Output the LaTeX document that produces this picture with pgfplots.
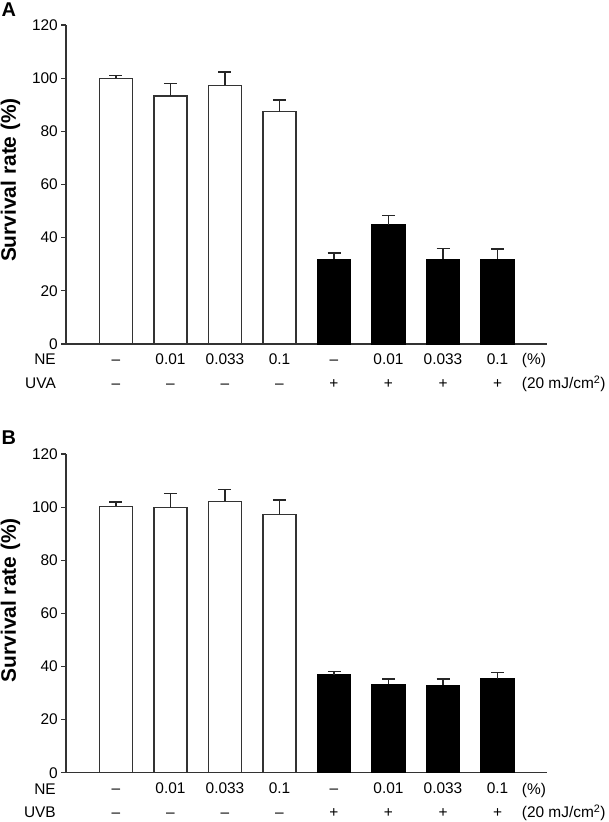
\documentclass[border=0pt]{standalone}
\usepackage{pgfplots}
\pgfplotsset{compat=1.18}
\usepackage{fontspec}
\setmainfont{Liberation Sans}
\newcommand\tf{\fontsize{15.5}{18}\selectfont}
\pgfplotsset{
 survstyle/.style={
  scale only axis, width=481bp, height=319bp,
  xmin=-0.917, xmax=7.908, ymin=0, ymax=120,
  axis x line*=bottom, axis y line*=left,
  ytick={0,20,...,120}, xtick=\empty,
  tick align=outside, major tick length=4.7bp,
  tick style={color=black!80, line width=1.1bp},
  axis line style={black!80, line width=1.1bp, -},
  y tick label style={font=\tf},
  /pgf/number format/assume math mode=true,
  clip=false,
  ybar, bar width=33bp, bar shift=0pt,
 },
 whitebar/.style={fill=white, draw=black!80, line width=1.1bp,
   error bars/.cd, y dir=plus, y explicit, error mark=|,
   error bar style={line width=1.2bp, black!85},
   error mark options={mark size=6.5bp, line width=1.2bp, black!85}},
 blackbar/.style={fill=black, draw=black, line width=1.1bp,
   error bars/.cd, y dir=plus, y explicit, error mark=|,
   error bar style={line width=1.2bp, black!85},
   error mark options={mark size=6.5bp, line width=1.2bp, black!85}},
}
\tikzset{
 rowa/.style={anchor=base, font=\tf, yshift=-21bp},
 rowb/.style={anchor=base, font=\tf, yshift=-45bp},
}
\begin{document}
\begin{tikzpicture}
\path[use as bounding box] (0,0) rectangle (609bp,822bp);
% Panel A
\begin{axis}[survstyle, at={(66bp,478bp)}, anchor=south west]
\addplot[whitebar] coordinates {(0,100) +- (0,1.0) (1,93.3) +- (0,4.8) (2,97.4) +- (0,4.9) (3,87.4) +- (0,4.4)};
\addplot[blackbar] coordinates {(4,31.9) +- (0,2.3) (5,44.9) +- (0,3.5) (6,31.9) +- (0,4.0) (7,31.9) +- (0,3.8)};
\node[rowa] at (axis cs:0,0) {–};
\node[rowa] at (axis cs:1,0) {0.01};
\node[rowa] at (axis cs:2,0) {0.033};
\node[rowa] at (axis cs:3,0) {0.1};
\node[rowa] at (axis cs:4,0) {–};
\node[rowa] at (axis cs:5,0) {0.01};
\node[rowa] at (axis cs:6,0) {0.033};
\node[rowa] at (axis cs:7,0) {0.1};
\node[rowb] at (axis cs:0,0) {–};
\node[rowb] at (axis cs:1,0) {–};
\node[rowb] at (axis cs:2,0) {–};
\node[rowb] at (axis cs:3,0) {–};
\node[rowb] at (axis cs:4,0) {+};
\node[rowb] at (axis cs:5,0) {+};
\node[rowb] at (axis cs:6,0) {+};
\node[rowb] at (axis cs:7,0) {+};
\end{axis}
\node[anchor=base east, font=\tf, inner sep=0pt] at (56bp,457bp) {NE};
\node[anchor=base east, font=\tf, inner sep=0pt] at (56bp,433bp) {UVA};
\node[anchor=base west, font=\tf, inner sep=0pt] at (521.7bp,457bp) {(\%)};
\node[anchor=base west, font=\tf, inner sep=0pt] at (521.7bp,433bp) {(20 mJ/cm\textsuperscript{2})};
\node[rotate=90, font=\fontsize{21}{25}\selectfont\bfseries, inner sep=0pt] at (10.5bp,642bp) {Survival rate (\%)};
\node[anchor=north west, font=\fontsize{20}{24}\selectfont\bfseries, inner sep=0pt] at (1.5bp,819bp) {A};
% Panel B
\begin{axis}[survstyle, at={(66bp,49.3bp)}, anchor=south west, height=318.7bp]
\addplot[whitebar] coordinates {(0,100.4) +- (0,1.5) (1,99.8) +- (0,5.2) (2,102.2) +- (0,4.5) (3,97.3) +- (0,5.4)};
\addplot[blackbar] coordinates {(4,36.8) +- (0,1.2) (5,33.3) +- (0,2.0) (6,33.0) +- (0,2.3) (7,35.3) +- (0,2.4)};
\node[rowa] at (axis cs:0,0) {–};
\node[rowa] at (axis cs:1,0) {0.01};
\node[rowa] at (axis cs:2,0) {0.033};
\node[rowa] at (axis cs:3,0) {0.1};
\node[rowa] at (axis cs:4,0) {–};
\node[rowa] at (axis cs:5,0) {0.01};
\node[rowa] at (axis cs:6,0) {0.033};
\node[rowa] at (axis cs:7,0) {0.1};
\node[rowb] at (axis cs:0,0) {–};
\node[rowb] at (axis cs:1,0) {–};
\node[rowb] at (axis cs:2,0) {–};
\node[rowb] at (axis cs:3,0) {–};
\node[rowb] at (axis cs:4,0) {+};
\node[rowb] at (axis cs:5,0) {+};
\node[rowb] at (axis cs:6,0) {+};
\node[rowb] at (axis cs:7,0) {+};
\end{axis}
\node[anchor=base east, font=\tf, inner sep=0pt] at (56bp,27.3bp) {NE};
\node[anchor=base east, font=\tf, inner sep=0pt] at (56bp,4.3bp) {UVB};
\node[anchor=base west, font=\tf, inner sep=0pt] at (521.7bp,27.3bp) {(\%)};
\node[anchor=base west, font=\tf, inner sep=0pt] at (521.7bp,4.3bp) {(20 mJ/cm\textsuperscript{2})};
\node[rotate=90, font=\fontsize{21}{25}\selectfont\bfseries, inner sep=0pt] at (10.5bp,221.7bp) {Survival rate (\%)};
\node[anchor=north west, font=\fontsize{20}{24}\selectfont\bfseries, inner sep=0pt] at (1.5bp,391bp) {B};
\end{tikzpicture}
\end{document}
